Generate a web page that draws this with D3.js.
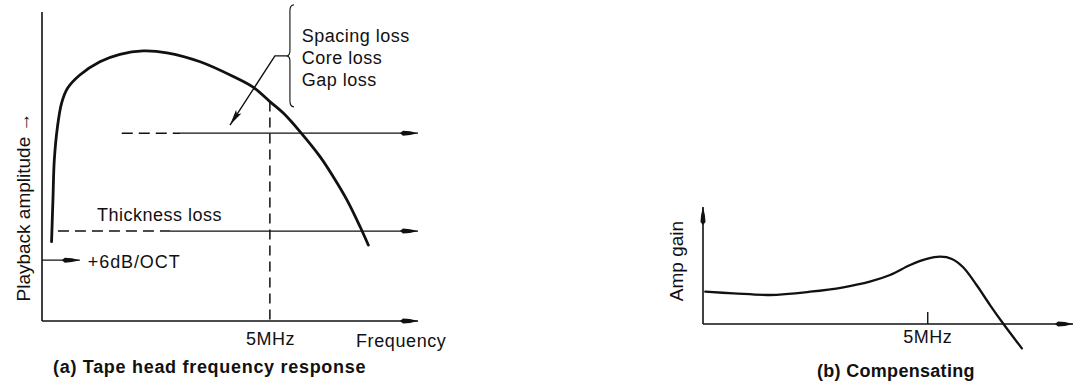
<!DOCTYPE html>
<html><head><meta charset="utf-8">
<script src="https://cdn.jsdelivr.net/npm/d3@7"></script>
<style>
html,body{margin:0;padding:0;background:#fff;}
svg{display:block;font-family:"Liberation Sans",Arial,Helvetica,sans-serif;}
</style></head><body>
<svg id="c" width="1075" height="382"></svg>
<script>
// ---- Data (arbitrary units) ----
// (a) Tape head frequency response: frequency (MHz-like units) vs playback amplitude (0-100)
const freqA = [0.21, 0.24, 0.27, 0.34, 0.43, 0.56, 0.83, 1.27, 1.71, 2.22, 2.74, 3.47, 4.20, 4.64, 5.00, 5.30, 5.66, 6.10, 6.39, 6.69, 6.98, 7.16];
const ampA  = [25.7, 39.2, 52.1, 62.9, 70.5, 75.3, 79.6, 83.9, 86.3, 87.4, 86.8, 83.9, 79.1, 75.6, 71.0, 67.2, 61.3, 53.2, 46.7, 39.2, 30.5, 24.6];
// loss reference lines: level, dashed start, solid start
const lossNames      = ["Spacing/Core/Gap", "Thickness loss"];
const lossLevels     = [60.8, 29.1];
const lossDashStart  = [1.75, 0.35];
const lossSolidStart = [3.03, 2.81];
const lossLabels = ["Spacing loss", "Core loss", "Gap loss"];
const slopeLevel = 19.7;           // +6dB/OCT arrow level
const slopeEnd = 0.83;
const markerFreq = 5;              // 5MHz
const tickLabels = ["5MHz"];

// (b) Compensating amp gain
const freqB = [0.05, 0.68, 1.49, 2.39, 3.13, 3.72, 4.17, 4.62, 4.99, 5.29, 5.55, 5.80, 6.10, 6.40, 6.70, 7.11];
const gainB = [27.6, 26.2, 24.8, 27.6, 31.4, 36.2, 41.9, 50.4, 55.6, 57.5, 55.6, 48.5, 33.3, 16.2, 0, -20.8];

// ---- Drawing ----
const ink = "#111";
const svg = d3.select("#c");
const defs = svg.append("defs");
defs.append("marker").attr("id","arr")
  .attr("viewBox","0 0 18 7").attr("refX",18).attr("refY",3.5)
  .attr("markerWidth",18).attr("markerHeight",7)
  .attr("markerUnits","userSpaceOnUse").attr("orient","auto")
  .append("path").attr("d","M0,3.5 L3,1 L10,1.6 L18,3.5 L10,5.4 L3,6 Z").attr("fill",ink);
defs.append("marker").attr("id","arr2")
  .attr("viewBox","0 0 16 8").attr("refX",16).attr("refY",4)
  .attr("markerWidth",16).attr("markerHeight",8)
  .attr("markerUnits","userSpaceOnUse").attr("orient","auto")
  .append("path").attr("d","M0,0.8 L16,4 L0,7.2 L3,4 Z").attr("fill",ink);

const xA = d3.scaleLinear().domain([0, 8.25]).range([42, 418]);
const yA = d3.scaleLinear().domain([0, 100]).range([321, 12]);
const xB = d3.scaleLinear().domain([0, 8.25]).range([703, 1073]);
const yB = d3.scaleLinear().domain([0, 100]).range([324, 207]);

const txt = (g, s, x, y, opts={}) => g.append("text").attr("x",x).attr("y",y)
  .attr("font-size", opts.size||18).attr("font-weight", opts.bold?"bold":"normal")
  .attr("letter-spacing", opts.ls!=null?opts.ls:0.5)
  .attr("text-anchor", opts.anchor||"start").attr("fill", ink).text(s);

// ===== Chart (a) =====
const gA = svg.append("g");
gA.append("line").attr("x1",xA(0)).attr("x2",xA(0)).attr("y1",yA(0)).attr("y2",yA(100))
  .attr("stroke",ink).attr("stroke-width",1.6);
gA.append("line").attr("x1",xA(0)).attr("x2",xA(8.25)).attr("y1",yA(0)).attr("y2",yA(0))
  .attr("stroke",ink).attr("stroke-width",1.6).attr("marker-end","url(#arr)");
const axA = gA.append("g").attr("transform",`translate(0,${yA(0)})`)
  .call(d3.axisBottom(xA).tickValues([markerFreq]).tickFormat((d,i)=>tickLabels[i]).tickSize(0).tickPadding(11));
axA.select(".domain").remove();
axA.selectAll("text").attr("font-size",18).attr("letter-spacing",0.5)
  .attr("font-family",'"Liberation Sans",Arial,sans-serif').attr("fill",ink);

lossLevels.forEach((lv,i)=>{
  gA.append("line").attr("x1",xA(lossDashStart[i])).attr("x2",xA(lossSolidStart[i]))
    .attr("y1",yA(lv)).attr("y2",yA(lv)).attr("stroke",ink).attr("stroke-width",1.5)
    .attr("stroke-dasharray","11,6");
  gA.append("line").attr("x1",xA(lossSolidStart[i])).attr("x2",xA(8.25))
    .attr("y1",yA(lv)).attr("y2",yA(lv)).attr("stroke",ink).attr("stroke-width",1.4)
    .attr("marker-end","url(#arr)");
});
const idx5 = freqA.indexOf(markerFreq);
gA.append("line").attr("x1",xA(markerFreq)).attr("x2",xA(markerFreq))
  .attr("y1",yA(ampA[idx5])).attr("y2",yA(0))
  .attr("stroke",ink).attr("stroke-width",1.5).attr("stroke-dasharray","10,6");
gA.append("line").attr("x1",xA(0)).attr("x2",xA(slopeEnd)).attr("y1",yA(slopeLevel)).attr("y2",yA(slopeLevel))
  .attr("stroke",ink).attr("stroke-width",1.4).attr("marker-end","url(#arr)");
txt(gA, "+6dB/OCT", xA(slopeEnd)+8, yA(slopeLevel)+8, {ls:0.9});

const lineA = d3.line().x((d,i)=>xA(freqA[i])).y((d,i)=>yA(ampA[i])).curve(d3.curveCatmullRom.alpha(0.5));
gA.append("path").attr("d", lineA(freqA)).attr("fill","none").attr("stroke",ink)
  .attr("stroke-width",2.8).attr("stroke-linecap","round").attr("stroke-linejoin","round");

const bx = xA(5.44), bTop = yA(102.3), bBot = yA(69.3), bMid = yA(85.8);
gA.append("path").attr("d",
  `M${bx+4},${bTop} Q${bx},${bTop} ${bx},${bTop+6} L${bx},${bMid-5} Q${bx},${bMid} ${bx-4},${bMid} Q${bx},${bMid} ${bx},${bMid+5} L${bx},${bBot-6} Q${bx},${bBot} ${bx+4},${bBot}`)
  .attr("fill","none").attr("stroke",ink).attr("stroke-width",1.1);
gA.append("path").attr("d", `M${bx-4},${bMid} L${xA(5.11)},${bMid} L${xA(4.125)},${yA(63.4)}`)
  .attr("fill","none").attr("stroke",ink).attr("stroke-width",1.4).attr("marker-end","url(#arr2)");
lossLabels.forEach((s,i)=> txt(gA, s, xA(5.7), yA(90.3)+i*22));
txt(gA, "Thickness loss", xA(1.207), yA(lossLevels[1])-10);

txt(gA, "Frequency", 356, 347, {ls:0.6});
gA.append("text").attr("transform",`translate(30,207) rotate(-90)`).attr("text-anchor","middle")
  .attr("font-size",19).attr("fill",ink).text("Playback amplitude \u2192");
txt(gA, "(a) Tape head frequency response", 53, 373, {bold:true, ls:0.7});

// ===== Chart (b) =====
const gB = svg.append("g");
gB.append("line").attr("x1",xB(0)).attr("x2",xB(0)).attr("y1",yB(0)).attr("y2",yB(100))
  .attr("stroke",ink).attr("stroke-width",1.6).attr("marker-end","url(#arr)");
gB.append("line").attr("x1",xB(0)).attr("x2",xB(8.25)).attr("y1",yB(0)).attr("y2",yB(0))
  .attr("stroke",ink).attr("stroke-width",1.6).attr("marker-end","url(#arr)");
const axB = gB.append("g").attr("transform",`translate(0,${yB(0)})`)
  .call(d3.axisBottom(xB).tickValues([markerFreq]).tickFormat((d,i)=>tickLabels[i])
    .tickSizeInner(-12).tickSizeOuter(0).tickPadding(6));
axB.select(".domain").remove();
axB.selectAll("line").attr("stroke",ink).attr("stroke-width",1.4);
axB.selectAll("text").attr("font-size",18).attr("letter-spacing",0.5)
  .attr("font-family",'"Liberation Sans",Arial,sans-serif').attr("fill",ink);

const lineB = d3.line().x((d,i)=>xB(freqB[i])).y((d,i)=>yB(gainB[i])).curve(d3.curveCatmullRom.alpha(0.5));
gB.append("path").attr("d", lineB(freqB)).attr("fill","none").attr("stroke",ink)
  .attr("stroke-width",2.3).attr("stroke-linecap","round").attr("stroke-linejoin","round");

gB.append("text").attr("transform",`translate(683,261) rotate(-90)`).attr("text-anchor","middle")
  .attr("font-size",19).attr("fill",ink).text("Amp gain");
txt(gB, "(b) Compensating", 817, 377, {bold:true, ls:0.3});
</script></body></html>
